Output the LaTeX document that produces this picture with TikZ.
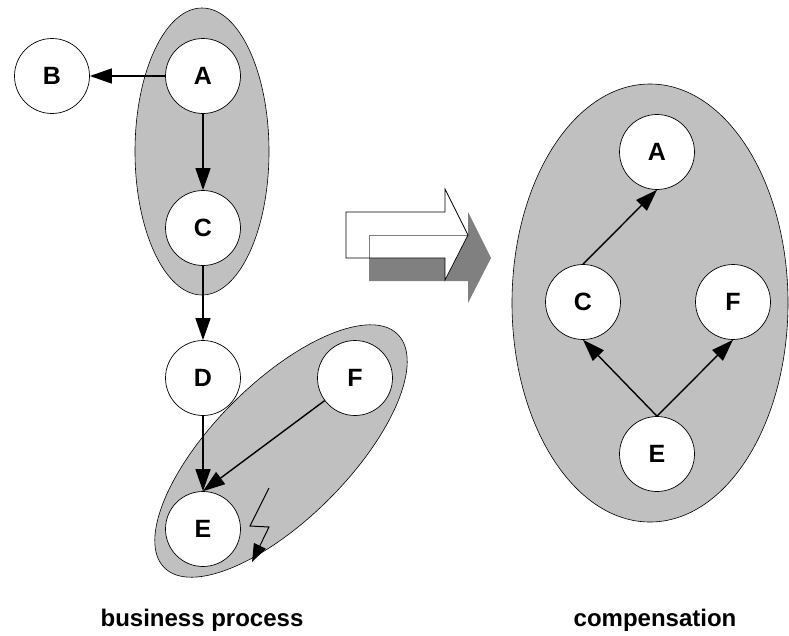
\documentclass[tikz,border=0pt]{standalone}
\usepackage{fontspec}
\setmainfont{Liberation Sans}
\usetikzlibrary{arrows.meta,shapes.geometric}
\definecolor{groupgray}{HTML}{C0C0C0}
\definecolor{shadowgray}{HTML}{808080}
\begin{document}
\begin{tikzpicture}[x=1pt,y=-1pt,
  state/.style={circle,draw,line width=0.7pt,fill=white,minimum size=75pt,inner sep=0pt,
    font=\fontsize{25}{25}\selectfont\bfseries},
  group/.style={ellipse,draw,line width=0.6pt,fill=groupgray,inner sep=0pt},
  flow/.style={line width=1.4pt,-{Triangle[length=22pt,width=15pt]}},
  caption/.style={font=\fontsize{24}{24}\selectfont\bfseries,anchor=base}]
\useasboundingbox (0,0) rectangle (789,635);

% groups
\node[group,minimum width=134pt,minimum height=287pt] (g1) at (202,151.5) {};
\node[group,minimum width=330pt,minimum height=136pt,rotate=45] (g2) at (281,451) {};
\node[group,minimum width=276pt,minimum height=438pt] (g3) at (650,303) {};

% business process
\node[state] (B) at (52,76) {B};
\node[state] (A) at (203,76) {A};
\node[state] (C) at (203,228) {C};
\node[state] (D) at (203,378) {D};
\node[state] (F) at (355,378) {F};
\node[state] (E) at (203,529) {E};

\draw[flow] (A.west) -- (B.east);
\draw[flow] (A.south) -- (C.north);
\draw[flow] (C.south) -- (D.north);
\draw[flow] (D.south) -- (E.north);
\draw[flow] (F) -- (E.north);

% failure bolt
\coordinate (z0) at (269,488);
\coordinate (z1) at (250,526);
\coordinate (z2) at (269,527);
\coordinate (z3) at (252,562);
\draw[line width=1pt,-{Triangle[length=18pt,width=13pt]}] (z0) -- (z1) -- (z2) -- (z3);

% transformation arrow with shadow
\fill[shadowgray] (369,235) -- (468,235) -- (468,212) -- (491,258) -- (468,303) -- (468,281) -- (369,281) -- cycle;
\fill[white] (346,212) -- (445,212) -- (445,189) -- (468,235) -- (445,280) -- (445,258) -- (346,258) -- cycle;
\draw[shadowgray,line width=0.5pt] (369,258) -- (369,235) -- (468,235);
\draw[line width=0.7pt] (346,212) -- (445,212) -- (445,189) -- (468,235) -- (445,280) -- (445,258) -- (346,258) -- cycle;

% compensation
\node[state] (A2) at (657,152) {A};
\node[state] (C2) at (583,302) {C};
\node[state] (F2) at (733,302) {F};
\node[state] (E2) at (657,454) {E};

\draw[flow] (C2.north) -- (A2.south);
\draw[flow] (E2.north) -- (C2.south);
\draw[flow] (E2.north) -- (F2.south);

% captions
\node[caption] (cap1) at (202,626) {business process};
\node[caption] (cap2) at (655,626) {compensation};
\end{tikzpicture}
\end{document}
